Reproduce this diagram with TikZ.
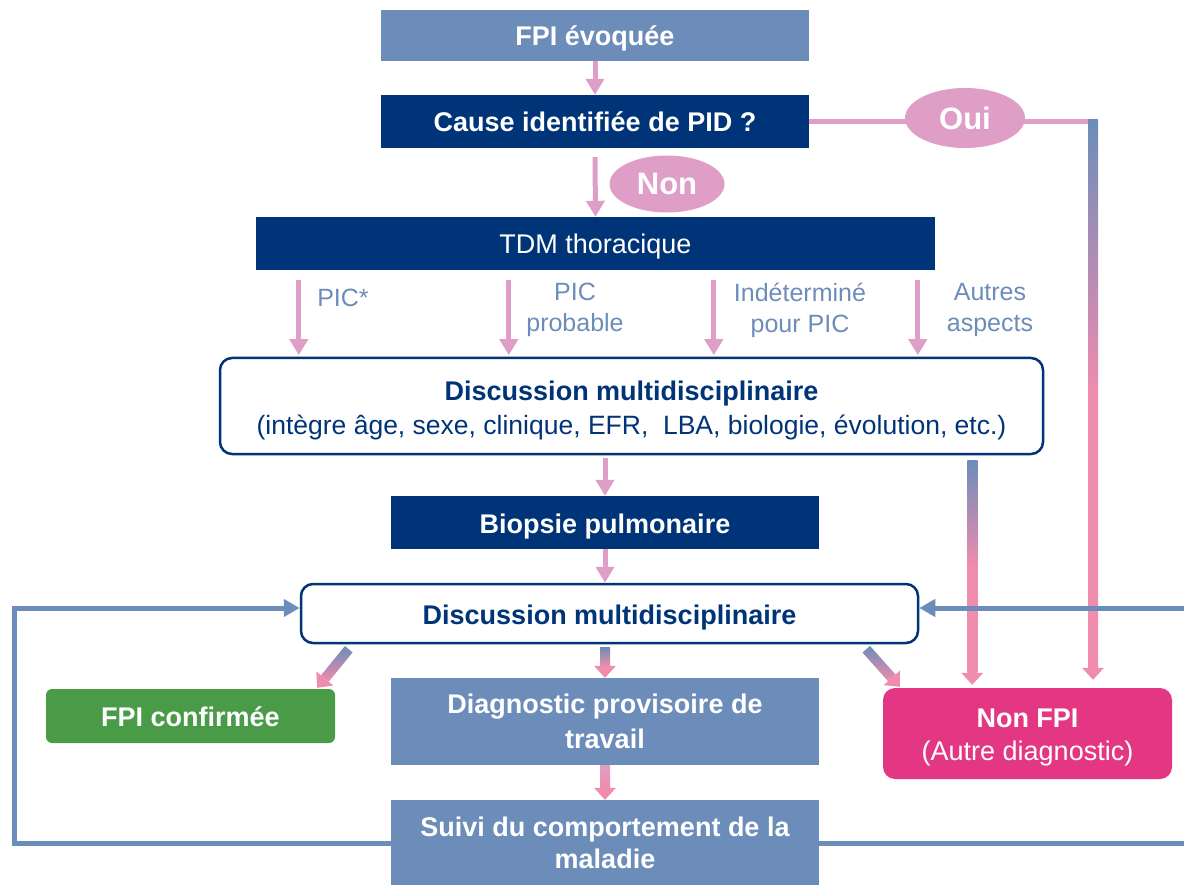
\documentclass[tikz,border=0pt]{standalone}
\usepackage{fontspec}
\setmainfont{Liberation Sans}
\usetikzlibrary{calc,arrows.meta,shapes.geometric}
\definecolor{navy}{RGB}{0,52,120}
\definecolor{steel}{RGB}{108,141,185}
\definecolor{rose}{RGB}{222,158,198}
\definecolor{roseg}{RGB}{240,140,174}
\definecolor{nonfpicol}{RGB}{227,54,131}
\definecolor{fpigreen}{RGB}{74,155,72}
\newcommand{\gradarrow}[3][]{\shade[top color=steel, bottom color=roseg, #1] ($(#2)!5pt!90:(#3)$) -- ($(#2)!5pt!-90:(#3)$) -- ($(#3)!12pt!(#2)!5pt!-90:(#3)$) -- ($(#3)!12pt!(#2)!5pt!90:(#3)$) -- cycle;
\fill[roseg] (#3) -- ($(#3)!12pt!(#2)!11pt!90:(#3)$) -- ($(#3)!12pt!(#2)!11pt!-90:(#3)$) -- cycle;}
\begin{document}
\begin{tikzpicture}[x=1pt, y=-1pt, font=\fontsize{27}{34}\selectfont,
  box/.style={inner sep=0pt, align=center, text=white, font=\fontsize{27}{35}\selectfont\bfseries},
  oneline/.style={text height=21pt, text depth=0pt},
  dmd/.style={draw=navy, line width=2.5pt, fill=white, rounded corners=12pt, inner sep=0pt, align=center, text=navy},
  pinkarr/.style={draw=rose, line width=5pt, -{Triangle[width=18pt,length=16pt]}},
  looparr/.style={draw=steel, line width=5pt, -{Triangle[width=17pt,length=16pt]}},
  blob/.style={ellipse, fill=rose, text=white, inner sep=0pt, font=\fontsize{31}{31}\selectfont\bfseries},
  lbl/.style={text=steel, align=center, inner sep=0pt, font=\fontsize{25}{31}\selectfont}]
\useasboundingbox (0,0) rectangle (1184,885);
\node[box, oneline, fill=steel, minimum width=428pt, minimum height=51pt] (evoq) at (595,35.5) {FPI évoquée};
\node[box, oneline, fill=navy, minimum width=428pt, minimum height=53pt] (cause) at (595,121.5) {Cause identifiée de PID ?};
\node[box, oneline, fill=navy, minimum width=679pt, minimum height=53pt, font=\fontsize{27}{34}\selectfont] (tdm) at (595.5,243.5) {TDM thoracique};
\node[dmd, text height=62pt, minimum width=823pt, minimum height=96pt] (dmd1) at (631.5,406) {\textbf{Discussion multidisciplinaire}\\\fontsize{26.5}{34}\selectfont(intègre âge, sexe, clinique, EFR, \ LBA, biologie, évolution, etc.)};
\node[box, oneline, fill=navy, minimum width=428pt, minimum height=53pt] (biopsie) at (605,522.5) {Biopsie pulmonaire};
\node[dmd, oneline, minimum width=617pt, minimum height=59pt, font=\fontsize{27}{34}\selectfont\bfseries] (dmd2) at (609.5,613.5) {Discussion multidisciplinaire};
\node[box, oneline, fill=fpigreen, rounded corners=6pt, minimum width=289pt, minimum height=54pt] (fpiconf) at (190.5,716) {FPI confirmée};
\node[box, fill=steel, minimum width=428pt, minimum height=87pt] (diag) at (605,721.5) {Diagnostic provisoire de\\travail};
\node[box, fill=steel, minimum width=428pt, minimum height=86pt, font=\fontsize{27}{32}\selectfont\bfseries] (suivi) at (605,843) {Suivi du comportement de la\\maladie};
\node[box, text height=59pt, fill=nonfpicol, rounded corners=12pt, minimum width=289pt, minimum height=91pt, font=\fontsize{27}{33}\selectfont] (nonfpi) at (1027.5,733.5) {\textbf{Non FPI}\\(Autre diagnostic)};
\node[lbl, anchor=base] (lpic) at (343,307) {PIC*};
\node[lbl] (lprob) at (575,310) {PIC\\probable};
\node[lbl] (lindet) at (800,310) {Indéterminé\\pour PIC};
\node[lbl] (lautres) at (990,310) {Autres\\aspects};
\draw[pinkarr] (evoq) -- (cause);
\draw[pinkarr] ([yshift=-9pt]cause.south) -- (tdm.north);
\foreach \dx in {43,253,458,662}{\draw[pinkarr] ($(tdm.south west)+(\dx,10)$) -- ($(tdm.south west)+(\dx,85)$);}
\draw[pinkarr] ($(biopsie.north |- dmd1.south)+(0,3)$) -- (biopsie.north);
\draw[pinkarr] (biopsie.south) -- (biopsie.south |- dmd2.north);
\coordinate (ouic) at (1093,120);
\coordinate (ouiend) at ($(ouic |- nonfpi.north)+(0,-8)$);
\draw[draw=rose, line width=5pt] (cause.east) -- (cause.east -| ouic);
\gradarrow[middle color=roseg]{ouic}{ouiend}
\coordinate (g1s) at ($(dmd1.south east)+(-72,5)$);
\coordinate (g1e) at ($(g1s |- nonfpi.north)+(0,-3)$);
\gradarrow[middle color=roseg]{g1s}{g1e}
\coordinate (gls) at ($(dmd2.south west)+(49,5)$);
\coordinate (gle) at ($(fpiconf.north east)+(-18,-1)$);
\gradarrow{gls}{gle}
\coordinate (grs) at ($(dmd2.south east)+(-53,5)$);
\coordinate (gre) at ($(nonfpi.north west)+(17,-1)$);
\gradarrow{grs}{gre}
\coordinate (gms) at ($(diag.north |- dmd2.south)+(0,3)$);
\gradarrow{gms}{diag.north}
\gradarrow[top color=rose]{diag.south}{suivi.north}
\coordinate (loopl) at (14,608);
\coordinate (loopr) at (1200,608);
\draw[looparr] (suivi.west) -| (loopl) -- (loopl -| dmd2.west);
\draw[looparr] (suivi.east) -| (loopr) -- (loopr -| dmd2.east);
\node[blob, minimum width=120pt, minimum height=60pt] (oui) at (965,118) {Oui};
\node[blob, minimum width=115pt, minimum height=57pt] (non) at (667,184) {Non};
\end{tikzpicture}
\end{document}
